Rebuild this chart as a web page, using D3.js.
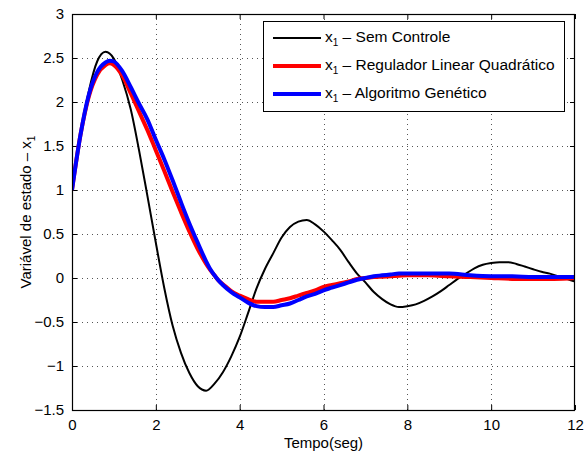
<!DOCTYPE html>
<html>
<head>
<meta charset="utf-8">
<script src="https://cdn.jsdelivr.net/npm/d3@7"></script>
<style>
  html, body { margin: 0; padding: 0; background: #fff; }
  svg text { font-family: "Liberation Sans", Arial, Helvetica, sans-serif; }
</style>
</head>
<body>
<svg id="chart" width="584" height="457"></svg>
<script>
// Time samples (s) and state x1 responses
const tBlack = [0,0.2,0.4,0.6,0.8,1.0,1.2,1.4,1.6,1.8,2.0,2.2,2.4,2.6,2.8,3.0,3.2,3.4,3.6,3.8,4.0,4.2,4.4,4.6,4.8,5.0,5.2,5.4,5.6,5.8,6.0,6.2,6.4,6.6,6.8,7.0,7.2,7.4,7.6,7.8,8.0,8.2,8.4,8.6,8.8,9.0,9.2,9.4,9.6,9.8,10.0,10.2,10.4,10.6,10.8,11.0,11.2,11.4,11.6,11.8,12.0];
const semControle = [1.00,1.62,2.12,2.46,2.57,2.49,2.25,1.92,1.45,0.93,0.40,-0.11,-0.54,-0.85,-1.08,-1.23,-1.28,-1.20,-1.07,-0.89,-0.67,-0.40,-0.12,0.10,0.28,0.46,0.58,0.64,0.66,0.61,0.53,0.43,0.32,0.18,0.05,-0.05,-0.16,-0.24,-0.30,-0.33,-0.32,-0.30,-0.26,-0.21,-0.15,-0.08,-0.01,0.05,0.11,0.15,0.17,0.18,0.18,0.16,0.13,0.10,0.07,0.05,0.02,-0.01,-0.04];

const tCtrl = [0,0.2,0.4,0.6,0.8,0.9,1.0,1.2,1.4,1.6,1.8,2.0,2.2,2.4,2.6,2.8,3.0,3.2,3.3,3.4,3.5,3.6,3.8,4.0,4.2,4.4,4.6,4.8,5.0,5.2,5.4,5.6,5.8,6.0,6.2,6.4,6.6,6.8,7.0,7.2,7.4,7.6,7.8,8.0,8.5,9.0,9.5,10.0,10.5,11.0,11.5,12.0];
const reguladorLQ = [1.00,1.62,2.06,2.31,2.42,2.44,2.42,2.30,2.10,1.89,1.68,1.45,1.22,0.98,0.75,0.53,0.33,0.16,0.09,0.03,-0.03,-0.07,-0.15,-0.20,-0.24,-0.27,-0.27,-0.27,-0.25,-0.23,-0.20,-0.17,-0.14,-0.10,-0.08,-0.06,-0.04,-0.01,0.00,0.01,0.015,0.02,0.025,0.03,0.03,0.02,0.01,0.00,-0.01,-0.01,-0.01,0.00];
const algGenetico = [1.00,1.62,2.08,2.34,2.45,2.47,2.46,2.35,2.17,1.98,1.80,1.57,1.35,1.11,0.86,0.62,0.40,0.19,0.10,0.03,-0.03,-0.08,-0.16,-0.22,-0.28,-0.32,-0.33,-0.33,-0.31,-0.29,-0.25,-0.21,-0.18,-0.14,-0.11,-0.08,-0.05,-0.02,0.00,0.02,0.03,0.04,0.05,0.05,0.05,0.05,0.03,0.02,0.02,0.01,0.01,0.01];

const xTicks = [0,2,4,6,8,10,12];
const yTicks = [-1.5,-1,-0.5,0,0.5,1,1.5,2,2.5,3];
const legendLabels = ["Sem Controle", "Regulador Linear Quadrático", "Algoritmo Genético"];

const svg = d3.select("#chart");
const L = 72, R = 575, T = 14, B = 410;
const FS = 15;

const x = d3.scaleLinear().domain([0, 12]).range([L, R]);
const y = d3.scaleLinear().domain([-1.5, 3]).range([B, T]);

const fmt = v => String(v).replace("-", "\u2212");

// Background
svg.append("rect").attr("x", 0).attr("y", 0).attr("width", 584).attr("height", 457).attr("fill", "#fff");

// Dotted grid
const grid = svg.append("g").attr("stroke", "#555").attr("stroke-width", 1).attr("stroke-dasharray", "1,4");
grid.selectAll(".gx").data(xTicks.slice(1, -1)).enter().append("line")
  .attr("x1", d => Math.round(x(d)) + 0.5).attr("x2", d => Math.round(x(d)) + 0.5)
  .attr("y1", T).attr("y2", B);
grid.selectAll(".gy").data(yTicks.slice(1, -1)).enter().append("line")
  .attr("y1", d => Math.round(y(d)) + 0.5).attr("y2", d => Math.round(y(d)) + 0.5)
  .attr("x1", L).attr("x2", R);

// Axes: ticks pointing inward on all four sides
const tickLen = 5;
const axB = svg.append("g").attr("transform", `translate(0,${B})`)
  .call(d3.axisBottom(x).tickValues(xTicks).tickSize(-tickLen).tickPadding(tickLen + 4).tickFormat(fmt));
const axT = svg.append("g").attr("transform", `translate(0,${T})`)
  .call(d3.axisTop(x).tickValues(xTicks).tickSize(-tickLen).tickFormat(""));
const axL = svg.append("g").attr("transform", `translate(${L},0)`)
  .call(d3.axisLeft(y).tickValues(yTicks).tickSize(-tickLen).tickPadding(tickLen + 3).tickFormat(fmt));
const axR = svg.append("g").attr("transform", `translate(${R},0)`)
  .call(d3.axisRight(y).tickValues(yTicks).tickSize(-tickLen).tickFormat(""));
[axB, axT, axL, axR].forEach(a => {
  a.select(".domain").remove();
  a.selectAll("line").attr("stroke", "#000");
  a.selectAll("text").attr("font-size", FS).attr("fill", "#000");
});

// Curves
const curve = (ts, vs) => d3.line().x((d, i) => x(ts[i])).y(d => y(d)).curve(d3.curveMonotoneX)(vs);
const clipId = "plotClip";
svg.append("clipPath").attr("id", clipId).append("rect")
  .attr("x", L).attr("y", T).attr("width", R - L).attr("height", B - T);
const plot = svg.append("g").attr("clip-path", `url(#${clipId})`);
plot.append("path").attr("d", curve(tBlack, semControle))
  .attr("fill", "none").attr("stroke", "#000").attr("stroke-width", 2);
plot.append("path").attr("d", curve(tCtrl, reguladorLQ))
  .attr("fill", "none").attr("stroke", "#ff0000").attr("stroke-width", 4);
plot.append("path").attr("d", curve(tCtrl, algGenetico))
  .attr("fill", "none").attr("stroke", "#0000ff").attr("stroke-width", 4);

// Frame
svg.append("rect").attr("x", L + 0.5).attr("y", T + 0.5).attr("width", R - L - 1).attr("height", B - T)
  .attr("fill", "none").attr("stroke", "#000").attr("stroke-width", 1.2);

// Axis titles
svg.append("text").attr("x", (L + R) / 2).attr("y", 448).attr("text-anchor", "middle")
  .attr("font-size", FS).text("Tempo(seg)");
const yl = svg.append("text").attr("transform", `translate(31,${(T + B) / 2}) rotate(-90)`)
  .attr("text-anchor", "middle").attr("font-size", FS);
yl.append("tspan").text("Variável de estado – x");
yl.append("tspan").attr("font-size", 10).attr("dy", 4).text("1");

// Legend
const lg = svg.append("g");
lg.append("rect").attr("x", 263.5).attr("y", 21.5).attr("width", 301).attr("height", 90)
  .attr("fill", "#fff").attr("stroke", "#000").attr("stroke-width", 1);
const legColors = ["#000", "#ff0000", "#0000ff"];
const legWidths = [2, 4, 4];
const rowY = [38, 66, 94];
legendLabels.forEach((lab, i) => {
  lg.append("line").attr("x1", 273).attr("x2", 321).attr("y1", rowY[i]).attr("y2", rowY[i])
    .attr("stroke", legColors[i]).attr("stroke-width", legWidths[i]);
  const t = lg.append("text").attr("x", 325).attr("y", rowY[i] + 4).attr("font-size", 15.5);
  t.append("tspan").text("x");
  t.append("tspan").attr("font-size", 10).attr("dy", 4).text("1");
  t.append("tspan").attr("dy", -4).text(" – " + lab);
});
</script>
</body>
</html>
